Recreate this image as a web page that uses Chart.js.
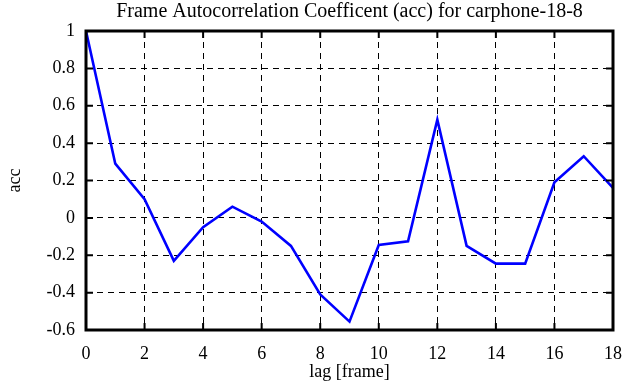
<!DOCTYPE html>
<html>
<head>
<meta charset="utf-8">
<script src="https://cdn.jsdelivr.net/npm/chart.js@4/dist/chart.umd.min.js"></script>
<style>
  html, body { margin: 0; padding: 0; background: #fff; }
  #wrap { width: 641px; height: 387px; }
</style>
</head>
<body>
<div id="wrap"><canvas id="accChart"></canvas></div>
<script>
const lags = [0, 1, 2, 3, 4, 5, 6, 7, 8, 9, 10, 11, 12, 13, 14, 15, 16, 17, 18];
const accValues = [1.0, 0.29, 0.1, -0.23, -0.05, 0.06, -0.02, -0.15, -0.41, -0.555, -0.145, -0.125, 0.525, -0.15, -0.245, -0.245, 0.19, 0.33, 0.16];
const xTicks = [0, 2, 4, 6, 8, 10, 12, 14, 16, 18];
const yTicks = [-0.6, -0.4, -0.2, 0, 0.2, 0.4, 0.6, 0.8, 1];

const serif = '"Liberation Serif", "DejaVu Serif", serif';

// frame around the plot plus small inward ticks, like the original
const framePlugin = {
    id: 'frame',
    afterDraw(chart) {
        const ctx = chart.ctx;
        const a = chart.chartArea;
        const xs = chart.scales.x, ys = chart.scales.y;
        ctx.save();
        ctx.strokeStyle = '#000';
        ctx.setLineDash([]);
        ctx.lineWidth = 2;
        xTicks.forEach(v => {
            const px = xs.getPixelForValue(v);
            ctx.beginPath();
            ctx.moveTo(px, a.bottom); ctx.lineTo(px, a.bottom - 7);
            ctx.moveTo(px, a.top); ctx.lineTo(px, a.top + 7);
            ctx.stroke();
        });
        yTicks.forEach(v => {
            const py = ys.getPixelForValue(v);
            ctx.beginPath();
            ctx.moveTo(a.left, py); ctx.lineTo(a.left + 7, py);
            ctx.moveTo(a.right, py); ctx.lineTo(a.right - 7, py);
            ctx.stroke();
        });
        ctx.lineWidth = 3;
        ctx.strokeRect(a.left, a.top, a.right - a.left, a.bottom - a.top);
        ctx.restore();
    }
};

new Chart(document.getElementById('accChart'), {
    type: 'line',
    data: {
        datasets: [{
            label: 'acc',
            data: lags.map((l, i) => ({ x: l, y: accValues[i] })),
            borderColor: '#0000ff',
            borderWidth: 2.6,
            pointRadius: 0,
            tension: 0,
            fill: false
        }]
    },
    options: {
        responsive: true,
        maintainAspectRatio: false,
        animation: false,
        layout: { padding: { top: 0, right: 28, bottom: 0, left: 0 } },
        plugins: {
            legend: { display: false },
            tooltip: { enabled: false },
            title: {
                display: true,
                fullSize: false,
                text: 'Frame Autocorrelation Coefficent (acc) for carphone-18-8',
                color: '#000',
                font: { family: serif, size: 20, weight: 'normal' },
                padding: { top: 0, bottom: 7 }
            }
        },
        scales: {
            x: {
                type: 'linear',
                min: 0,
                max: 18,
                afterBuildTicks: s => { s.ticks = xTicks.map(v => ({ value: v })); },
                afterFit: s => { s.height = 57; },
                ticks: {
                    color: '#000',
                    font: { family: serif, size: 18 },
                    padding: 13,
                    maxRotation: 0
                },
                grid: { color: '#000', lineWidth: 1, drawTicks: false },
                border: { display: false, dash: [6, 5] },
                title: {
                    display: true,
                    text: 'lag [frame]',
                    color: '#000',
                    font: { family: serif, size: 18 },
                    padding: { top: 2, bottom: 4 }
                }
            },
            y: {
                min: -0.6,
                max: 1,
                afterBuildTicks: s => { s.ticks = yTicks.map(v => ({ value: v })); },
                afterFit: s => { s.width = 86; },
                ticks: {
                    color: '#000',
                    font: { family: serif, size: 18 },
                    padding: 11,
                    callback: v => String(Math.round(v * 10) / 10)
                },
                grid: { color: '#000', lineWidth: 1, drawTicks: false },
                border: { display: false, dash: [6, 5] },
                title: {
                    display: true,
                    text: 'acc',
                    color: '#000',
                    font: { family: serif, size: 18 },
                    padding: { top: 4, bottom: 4 }
                }
            }
        }
    },
    plugins: [framePlugin]
});
</script>
</body>
</html>
